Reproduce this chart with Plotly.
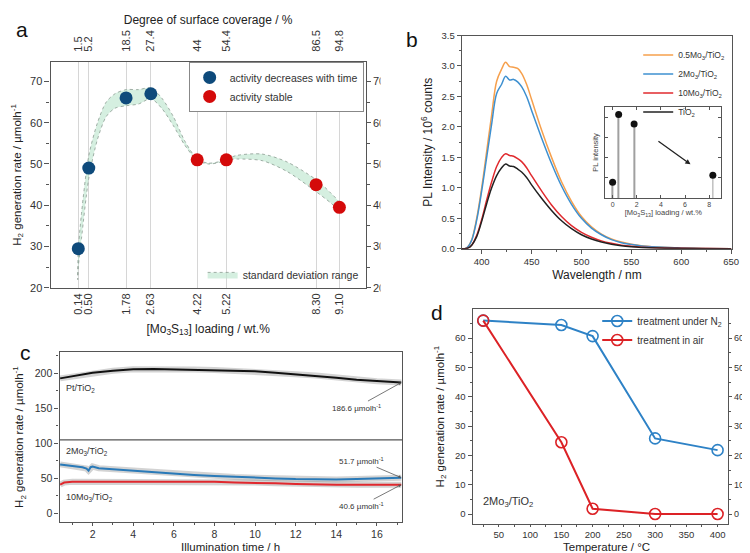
import plotly.graph_objects as go

FONT = "Liberation Sans, Arial, sans-serif"
W, H = 750, 553

# ---- panel a: activity vs loading ----
loading = [0.14, 0.50, 1.78, 2.63, 4.22, 5.22, 8.30, 9.10]
loading_txt = ["0.14", "0.50", "1.78", "2.63", "4.22", "5.22", "8.30", "9.10"]
coverage_txt = ["1.5", "5.2", "18.5", "27.4", "44", "54.4", "86.5", "94.8"]
rate_a = [29.5, 49, 66, 67, 51, 51, 45, 39.5]
decreasing = [True, True, True, True, False, False, False, False]

band_x = [0.12, 0.14, 0.25, 0.50, 0.8, 1.1, 1.4, 1.78, 2.2, 2.63, 3.0, 3.4, 3.8, 4.22, 4.6, 5.0, 5.22, 5.6, 6.45, 7.3, 8.3, 8.8, 9.10]
band_hi = [22, 29, 38, 52, 60, 65, 67, 68, 68, 68.4, 66, 61.5, 55.5, 51.2, 50.2, 50.6, 51.2, 52.1, 52.4, 50.5, 46.2, 43, 40.6]
band_lo = [22, 25, 32, 46.5, 56, 61.5, 63.5, 64.1, 64.5, 65.8, 63.5, 59.3, 54.5, 50.9, 50.0, 50.4, 51.0, 51.2, 50.8, 48.2, 43.3, 40.6, 38.8]

# ---- panel b: PL spectra ----
wl = [380, 383, 386, 390, 395, 400, 405, 410, 415, 420, 424, 428, 432, 436, 440, 445, 450, 460, 470, 480,
      490, 500, 510, 520, 530, 540, 550, 560, 575, 600, 625, 650]
pl_05 = [0, 0, 0.03, 0.15, 0.5, 1.0, 1.6, 2.2, 2.75, 2.95, 3.06, 2.99, 2.98, 2.96, 2.88, 2.7, 2.45, 1.95, 1.5, 1.1,
         0.78, 0.53, 0.36, 0.24, 0.16, 0.11, 0.075, 0.05, 0.03, 0.012, 0.005, 0.002]
pl_2 = [0, 0, 0.03, 0.14, 0.47, 0.95, 1.5, 2.05, 2.55, 2.7, 2.83, 2.77, 2.78, 2.74, 2.66, 2.5, 2.27, 1.82, 1.4, 1.03,
        0.73, 0.5, 0.34, 0.23, 0.15, 0.1, 0.07, 0.047, 0.028, 0.011, 0.005, 0.002]
pl_10 = [0, 0, 0.01, 0.06, 0.22, 0.48, 0.8, 1.1, 1.35, 1.5, 1.56, 1.53, 1.52, 1.48, 1.43, 1.33, 1.2, 0.95, 0.72, 0.53,
         0.38, 0.27, 0.19, 0.13, 0.09, 0.06, 0.04, 0.027, 0.016, 0.007, 0.003, 0.001]
pl_tio2 = [0, 0, 0.01, 0.06, 0.2, 0.45, 0.74, 1.0, 1.2, 1.33, 1.39, 1.36, 1.35, 1.31, 1.26, 1.17, 1.05, 0.83, 0.63, 0.46,
           0.33, 0.23, 0.16, 0.11, 0.075, 0.05, 0.034, 0.023, 0.013, 0.006, 0.002, 0.001]
b_names = ["0.5Mo<sub>3</sub>/TiO<sub>2</sub>", "2Mo<sub>3</sub>/TiO<sub>2</sub>",
           "10Mo<sub>3</sub>/TiO<sub>2</sub>", "TiO<sub>2</sub>"]
b_colors = ["#f6a04d", "#3e90d0", "#e02a2e", "#222222"]

inset_x = [0, 0.5, 1.78, 8.3]
inset_y = [1.39, 3.06, 2.83, 1.56]

# ---- panel c: time course ----
t_pt = [0.4, 1, 2, 3, 4, 5, 6, 7, 8, 9, 10, 11, 12, 13, 14, 15, 16, 17.2]
r_pt = [193, 196, 201, 204, 206, 206.5, 206, 205.5, 205, 204, 203, 201, 199, 197, 194, 191, 189, 187]
t_2mo = [0.4, 1, 1.5, 1.7, 1.8, 1.9, 2.0, 2.3, 3, 4, 5, 6, 7, 8, 9, 10, 11, 12, 13, 14, 15, 16, 17.2]
r_2mo = [70, 68, 66, 64, 61, 66, 67, 64.5, 63, 61, 59, 57, 55, 53.5, 52, 51, 50, 49, 48.5, 48.5, 49, 50, 51]
t_10mo = [0.4, 0.6, 1, 2, 3, 4, 5, 6, 7, 8, 9, 10, 11, 12, 13, 14, 15, 16, 17.2]
r_10mo = [41, 44, 45, 45, 46, 46, 46, 46, 45, 45, 44, 44, 43, 42, 41, 41, 41, 41, 41]

# ---- panel d: thermal treatment ----
temp = [25, 150, 200, 300, 400]
rate_n2 = [66, 64.5, 60.7, 25.8, 21.8]
rate_air = [66, 24.5, 1.8, 0, 0]


def px(x0, x1, y0, y1):
    # pixel box -> paper domains
    return [x0 / W, x1 / W], [1 - y1 / H, 1 - y0 / H]


ax_line = dict(showline=True, linecolor="#555", linewidth=1.2, tickcolor="#555",
               tickfont=dict(size=10, color="#333"), zeroline=False, showgrid=False)

fig = go.Figure()

# panel a
ad_x, ad_y = px(43, 361, 49, 280)
fig.add_trace(go.Scatter(x=band_x + band_x[::-1], y=band_hi + band_lo[::-1], fill="toself",
                         fillcolor="rgba(190,230,208,0.65)", mode="lines",
                         line=dict(color="#8a9a90", width=0.8, dash="dot", shape="spline", smoothing=0.8),
                         name="standard deviation range", legend="legend2", hoverinfo="skip"))
for flag, col, nm in [(True, "#0e4a7b", "activity decreases with time"), (False, "#d40a0a", "activity stable")]:
    fig.add_trace(go.Scatter(x=[x for x, d in zip(loading, decreasing) if d == flag],
                             y=[y for y, d in zip(rate_a, decreasing) if d == flag],
                             mode="markers", marker=dict(color=col, size=13), name=nm, legend="legend"))
fig.add_trace(go.Scatter(x=[None], y=[None], xaxis="x2", yaxis="y", showlegend=False))
fig.add_trace(go.Scatter(x=[None], y=[None], xaxis="x", yaxis="y2", showlegend=False))

# panel b
bd_x, bd_y = px(458, 731, 22, 240)
for yy, nm, col in zip([pl_05, pl_2, pl_10, pl_tio2], b_names, b_colors):
    fig.add_trace(go.Scatter(x=wl, y=yy, mode="lines", line=dict(color=col, width=1.5, shape="spline"),
                             name=nm, xaxis="x3", yaxis="y3", legend="legend3"))
fig.add_trace(go.Bar(x=inset_x, y=inset_y, width=0.06, marker=dict(color="#a0a0a0", line=dict(width=0)),
                     xaxis="x4", yaxis="y4", showlegend=False))
fig.add_trace(go.Scatter(x=inset_x, y=inset_y, mode="markers", marker=dict(color="#111", size=7),
                         xaxis="x4", yaxis="y4", showlegend=False))

# panel c
cd_x, cd_y = px(52, 398, 346, 519)
for tt, rr, col in [(t_pt, r_pt, "#111111"), (t_2mo, r_2mo, "#2a7ab8"), (t_10mo, r_10mo, "#e0282e")]:
    fig.add_trace(go.Scatter(x=tt, y=rr, mode="lines", line=dict(color="rgba(130,130,130,0.35)", width=6),
                             xaxis="x5", yaxis="y5", showlegend=False, hoverinfo="skip"))
    fig.add_trace(go.Scatter(x=tt, y=rr, mode="lines", line=dict(color=col, width=2),
                             xaxis="x5", yaxis="y5", showlegend=False))

# panel d
dd_x, dd_y = px(469, 727, 302, 521)
fig.add_trace(go.Scatter(x=temp, y=rate_n2, mode="lines+markers", name="treatment under N<sub>2</sub>",
                         line=dict(color="#2e82c6", width=2),
                         marker=dict(symbol="circle-open", size=11, line=dict(width=1.6), color="#2e82c6"),
                         xaxis="x6", yaxis="y6", legend="legend4"))
fig.add_trace(go.Scatter(x=temp, y=rate_air, mode="lines+markers", name="treatment in air",
                         line=dict(color="#dc2226", width=2),
                         marker=dict(symbol="circle-open", size=11, line=dict(width=1.6), color="#dc2226"),
                         xaxis="x6", yaxis="y6", legend="legend4"))
fig.add_trace(go.Scatter(x=[None], y=[None], xaxis="x6", yaxis="y7", showlegend=False))

h2_title = "H<sub>2</sub> generation rate / µmolh<sup>-1</sup>"
mo_title = "[Mo<sub>3</sub>S<sub>13</sub>] loading / wt.%"

fig.update_layout(
    width=W, height=H, margin=dict(l=0, r=0, t=0, b=0),
    paper_bgcolor="white", plot_bgcolor="rgba(0,0,0,0)",
    font=dict(family=FONT, color="#222"),
    barmode="overlay",
    # a
    xaxis=dict(ax_line, domain=ad_x, anchor="y", range=[-0.81, 10], tickvals=loading, ticktext=loading_txt,
               tickangle=-90, ticks="", showgrid=True, gridcolor="#d6d6d6", gridwidth=0.8,
               tickfont=dict(size=11, color="#333"),
               title=dict(text=mo_title, font=dict(size=12), standoff=10)),
    xaxis2=dict(ax_line, overlaying="x", side="top", anchor="y", range=[-0.81, 10], tickvals=loading,
                ticktext=coverage_txt, tickangle=-90, ticks="outside", ticklen=7, tickcolor="rgba(0,0,0,0)",
                tickfont=dict(size=11, color="#333"),
                title=dict(text="Degree of surface coverage / %", font=dict(size=12), standoff=3)),
    yaxis=dict(ax_line, domain=ad_y, anchor="x", range=[20, 74.7], dtick=10, ticks="outside", ticklen=5,
               tickfont=dict(size=11, color="#333"), minor=dict(dtick=5, ticks="outside", ticklen=3, tickcolor="#555"),
               title=dict(text=h2_title, font=dict(size=11.5), standoff=6)),
    yaxis2=dict(ax_line, overlaying="y", side="right", anchor="x", range=[20, 74.7], dtick=10, ticks="outside",
                ticklen=4, tickfont=dict(size=11, color="#333"),
                minor=dict(dtick=5, ticks="outside", ticklen=3, tickcolor="#555")),
    # b
    xaxis3=dict(ax_line, domain=bd_x, anchor="y3", range=[380, 651], dtick=50, ticks="outside", ticklen=4,
                mirror=True, tickfont=dict(size=9.5, color="#333"), minor=dict(dtick=25, ticks="outside", ticklen=2),
                title=dict(text="Wavelength / nm", font=dict(size=12), standoff=4)),
    yaxis3=dict(ax_line, domain=bd_y, anchor="x3", range=[0, 3.5], dtick=0.5, tickformat=".1f", ticks="outside",
                ticklen=4, mirror=True, tickfont=dict(size=9.5, color="#333"),
                minor=dict(dtick=0.25, ticks="outside", ticklen=2),
                title=dict(text="PL Intensity / 10<sup>6</sup> counts", font=dict(size=12), standoff=6)),
    xaxis4=dict(ax_line, domain=[603 / W, 720 / W], anchor="y4", range=[-0.6, 9], dtick=2, ticks="inside",
                ticklen=3, mirror="ticks", linewidth=1, tickfont=dict(size=7, color="#444"),
                title=dict(text=mo_title, font=dict(size=7.5, color="#444"), standoff=2)),
    yaxis4=dict(ax_line, domain=[1 - 188 / H, 1 - 95 / H], anchor="x4", range=[1.0, 3.25], dtick=0.5,
                ticks="inside", ticklen=3, mirror="ticks", linewidth=1, showticklabels=False,
                title=dict(text="PL intensity", font=dict(size=7.5, color="#444"), standoff=4)),
    # c
    xaxis5=dict(ax_line, domain=cd_x, anchor="y5", range=[0.37, 17.25], dtick=2, ticks="outside", ticklen=3,
                mirror=True, tickfont=dict(size=10.5, color="#333"), minor=dict(dtick=1, ticks="outside", ticklen=2)),
    yaxis5=dict(ax_line, domain=cd_y, anchor="x5", range=[-12, 230], dtick=50, ticks="outside", ticklen=4,
                mirror=True, tickfont=dict(size=10.5, color="#333"), minor=dict(dtick=25, ticks="outside", ticklen=2),
                title=dict(text=h2_title, font=dict(size=11.5), standoff=8)),
    # d
    xaxis6=dict(ax_line, domain=dd_x, anchor="y6", range=[8, 417], dtick=50, tick0=0, ticks="outside", ticklen=2,
                mirror=True, tickfont=dict(size=9.5, color="#333"), minor=dict(dtick=25, ticks="outside", ticklen=2)),
    yaxis6=dict(ax_line, domain=dd_y, anchor="x6", range=[-3.3, 69.8], dtick=10, ticks="outside", ticklen=4,
                tickfont=dict(size=9.5, color="#333"), minor=dict(dtick=5, ticks="outside", ticklen=2),
                title=dict(text=h2_title, font=dict(size=11.5), standoff=8)),
    yaxis7=dict(ax_line, overlaying="y6", side="right", anchor="x6", range=[-3.3, 69.8], dtick=10, ticks="outside",
                ticklen=3, tickfont=dict(size=9, color="#333"), minor=dict(dtick=5, ticks="outside", ticklen=2)),
    legend=dict(x=359 / W, y=1 - 49 / H, xanchor="right", yanchor="top", bgcolor="white",
                bordercolor="#888", borderwidth=1, font=dict(size=10.5, color="#333"), tracegroupgap=0),
    legend2=dict(x=359 / W, y=1 - 281 / H, xanchor="right", yanchor="bottom", bgcolor="rgba(0,0,0,0)",
                 font=dict(size=10.5, color="#333")),
    legend3=dict(x=728 / W, y=1 - 27 / H, xanchor="right", yanchor="top", bgcolor="rgba(0,0,0,0)",
                 font=dict(size=8.5, color="#333"), tracegroupgap=0),
    legend4=dict(x=726 / W, y=1 - 299 / H, xanchor="right", yanchor="top", bgcolor="rgba(0,0,0,0)",
                 font=dict(size=10, color="#333"), tracegroupgap=0),
    shapes=[
        # split line in panel c
        dict(type="line", xref="x5 domain", yref="y5", x0=0, x1=1, y0=105, y1=105,
             line=dict(color="#555", width=1.2)),
        # white strip cutting panel a right labels like the source crop
        dict(type="rect", xref="paper", yref="paper", x0=376 / W, x1=424 / W, y0=1 - 290 / H, y1=1 - 40 / H,
             fillcolor="white", line=dict(width=0), layer="above"),
    ],
)

ann = []
for txt, x, y in [("a", 14, 16), ("b", 408, 26), ("c", 18, 346), ("d", 433, 305)]:
    ann.append(dict(text=txt, x=x / W, y=1 - y / H, xref="paper", yref="paper", showarrow=False,
                    font=dict(size=21, color="#111"), xanchor="center", yanchor="middle"))
# x titles of the lower panels
for txt, x, y in [("Illumination time / h", 225, 545), ("Temperature / °C", 604, 545)]:
    ann.append(dict(text=txt, x=x / W, y=1 - y / H, xref="paper", yref="paper", showarrow=False,
                    font=dict(size=11.5, color="#222"), xanchor="center", yanchor="middle"))
# inset arrow
ann.append(dict(x=6.45, y=1.83, ax=3.67, ay=2.43, xref="x4", yref="y4", axref="x4", ayref="y4", text="",
                showarrow=True, arrowhead=2, arrowsize=0.8, arrowwidth=1.3, arrowcolor="#222"))
# panel c labels
for txt, x, y in [("Pt/TiO<sub>2</sub>", 0.6, 178), ("2Mo<sub>3</sub>/TiO<sub>2</sub>", 0.6, 88),
                  ("10Mo<sub>3</sub>/TiO<sub>2</sub>", 0.6, 22)]:
    ann.append(dict(text=txt, x=x, y=y, xref="x5", yref="y5", showarrow=False, xanchor="left",
                    font=dict(size=9, color="#333")))
for txt, x, y, axo, ayo in [("186.6 µmolh<sup>-1</sup>", 17.2, 187, -45, 25),
                            ("51.7 µmolh<sup>-1</sup>", 17.2, 51, -40, -17),
                            ("40.6 µmolh<sup>-1</sup>", 17.2, 41, -40, 21)]:
    ann.append(dict(text=txt, x=x, y=y, xref="x5", yref="y5", ax=axo, ay=ayo, showarrow=True, arrowhead=2,
                    arrowsize=0.7, arrowwidth=0.8, arrowcolor="#555", font=dict(size=8, color="#333")))
ann.append(dict(text="2Mo<sub>3</sub>/TiO<sub>2</sub>", x=477 / W, y=1 - 508 / H, xref="paper", yref="paper",
                showarrow=False, xanchor="left", font=dict(size=11, color="#333")))
fig.update_layout(annotations=ann)

fig.write_html("out.html")
